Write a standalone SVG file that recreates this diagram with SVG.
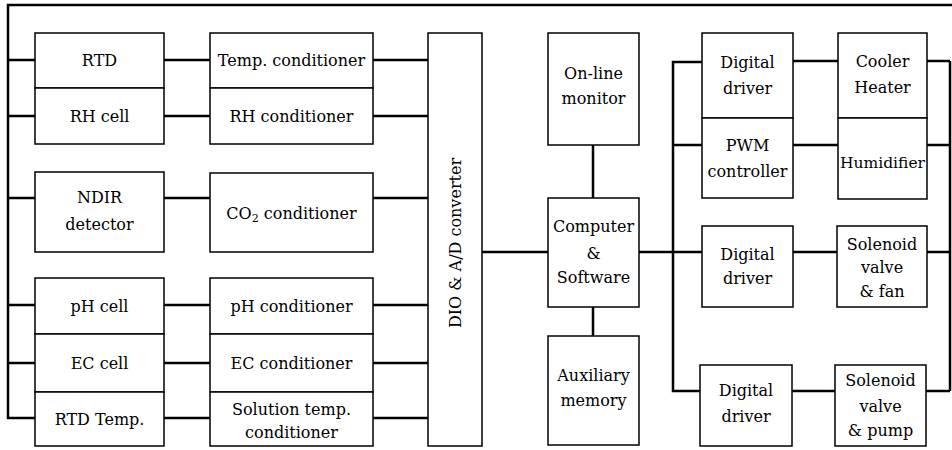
<svg xmlns="http://www.w3.org/2000/svg" width="952" height="450" viewBox="0 0 952 450">
<style>
.box{fill:#fff;stroke:#000;stroke-width:1.5}
.ln{fill:none;stroke:#000;stroke-width:2.5}
text{font-family:"DejaVu Serif","Liberation Serif",serif;font-size:16px;fill:#000;text-anchor:middle}
</style>
<rect width="952" height="450" fill="#fff"/>
<g id="connectors">
<path class="ln" d="M952,5 H8 V418 H35"/>
<path class="ln" d="M8,60 H35 M8,116 H35 M8,198 H35 M8,305 H35 M8,363 H35"/>
<path class="ln" d="M164,60 H210 M164,116 H210 M164,198 H210 M164,305 H210 M164,363 H210 M164,418 H210"/>
<path class="ln" d="M373,60 H428 M373,116 H428 M373,198 H428 M373,305 H428 M373,363 H428 M373,418 H428"/>
<path class="ln" d="M482,252 H548"/>
<path class="ln" d="M593,145 V198 M593,307 V336"/>
<path class="ln" d="M639,252 H702 M702,62 H673 V391 H700 M673,145 H702"/>
<path class="ln" d="M793,61 H838 M793,145 H838 M793,252 H837 M792,391 H835"/>
<path class="ln" d="M927,61 H950 M927,145 H950 M927,252 H950 M926,391 H950 M950,61 V391"/>
</g>
<g id="rtd"><rect class="box" x="35" y="33" width="129" height="55"/><text x="99.5" y="66">RTD</text></g>
<g id="rhcell"><rect class="box" x="35" y="88" width="129" height="56"/><text x="99.5" y="122">RH cell</text></g>
<g id="ndir"><rect class="box" x="35" y="172" width="129" height="80"/><text x="99.5" y="203">NDIR</text><text x="99.5" y="230">detector</text></g>
<g id="phcell"><rect class="box" x="35" y="278" width="129" height="56"/><text x="99.5" y="312">pH cell</text></g>
<g id="eccell"><rect class="box" x="35" y="334" width="129" height="58"/><text x="99.5" y="369">EC cell</text></g>
<g id="rtdtemp"><rect class="box" x="35" y="392" width="129" height="54"/><text x="99.5" y="425">RTD Temp.</text></g>
<g id="tempcond"><rect class="box" x="210" y="33" width="163" height="55"/><text x="291.5" y="66">Temp. conditioner</text></g>
<g id="rhcond"><rect class="box" x="210" y="88" width="163" height="56"/><text x="291.5" y="122">RH conditioner</text></g>
<g id="co2cond"><rect class="box" x="210" y="173" width="163" height="79"/><text x="291.5" y="219">CO<tspan font-size="11" dy="3">2</tspan><tspan dy="-3"> conditioner</tspan></text></g>
<g id="phcond"><rect class="box" x="210" y="278" width="163" height="56"/><text x="291.5" y="312">pH conditioner</text></g>
<g id="eccond"><rect class="box" x="210" y="334" width="163" height="58"/><text x="291.5" y="369">EC conditioner</text></g>
<g id="solcond"><rect class="box" x="210" y="392" width="163" height="54"/><text x="291.5" y="415">Solution temp.</text><text x="291.5" y="438">conditioner</text></g>
<g id="dio"><rect class="box" x="428" y="33" width="54" height="413"/><text transform="translate(461,243) rotate(-90)">DIO &amp; A/D converter</text></g>
<g id="monitor"><rect class="box" x="548" y="33" width="91" height="112"/><text x="593.5" y="79">On-line</text><text x="593.5" y="104">monitor</text></g>
<g id="computer"><rect class="box" x="548" y="198" width="91" height="109"/><text x="593.5" y="232">Computer</text><text x="593.5" y="259">&amp;</text><text x="593.5" y="283">Software</text></g>
<g id="auxmem"><rect class="box" x="548" y="336" width="91" height="109"/><text x="593.5" y="381">Auxiliary</text><text x="593.5" y="406">memory</text></g>
<g id="dd1"><rect class="box" x="702" y="33" width="91" height="85"/><text x="747.5" y="68">Digital</text><text x="747.5" y="94">driver</text></g>
<g id="pwm"><rect class="box" x="702" y="118" width="91" height="80"/><text x="747.5" y="151">PWM</text><text x="747.5" y="177">controller</text></g>
<g id="cooler"><rect class="box" x="838" y="33" width="89" height="85"/><text x="882.5" y="67">Cooler</text><text x="882.5" y="93">Heater</text></g>
<g id="humid"><rect class="box" x="838" y="118" width="89" height="81"/><text x="882.5" y="168" style="font-size:15.5px">Humidifier</text></g>
<g id="dd2"><rect class="box" x="702" y="226" width="91" height="81"/><text x="747.5" y="260">Digital</text><text x="747.5" y="284">driver</text></g>
<g id="solfan"><rect class="box" x="837" y="226" width="90" height="81"/><text x="882" y="250">Solenoid</text><text x="882" y="273">valve</text><text x="882" y="297">&amp; fan</text></g>
<g id="dd3"><rect class="box" x="700" y="365" width="92" height="81"/><text x="746" y="396">Digital</text><text x="746" y="422">driver</text></g>
<g id="solpump"><rect class="box" x="835" y="365" width="91" height="81"/><text x="880.5" y="386">Solenoid</text><text x="880.5" y="412">valve</text><text x="880.5" y="436">&amp; pump</text></g>
</svg>
